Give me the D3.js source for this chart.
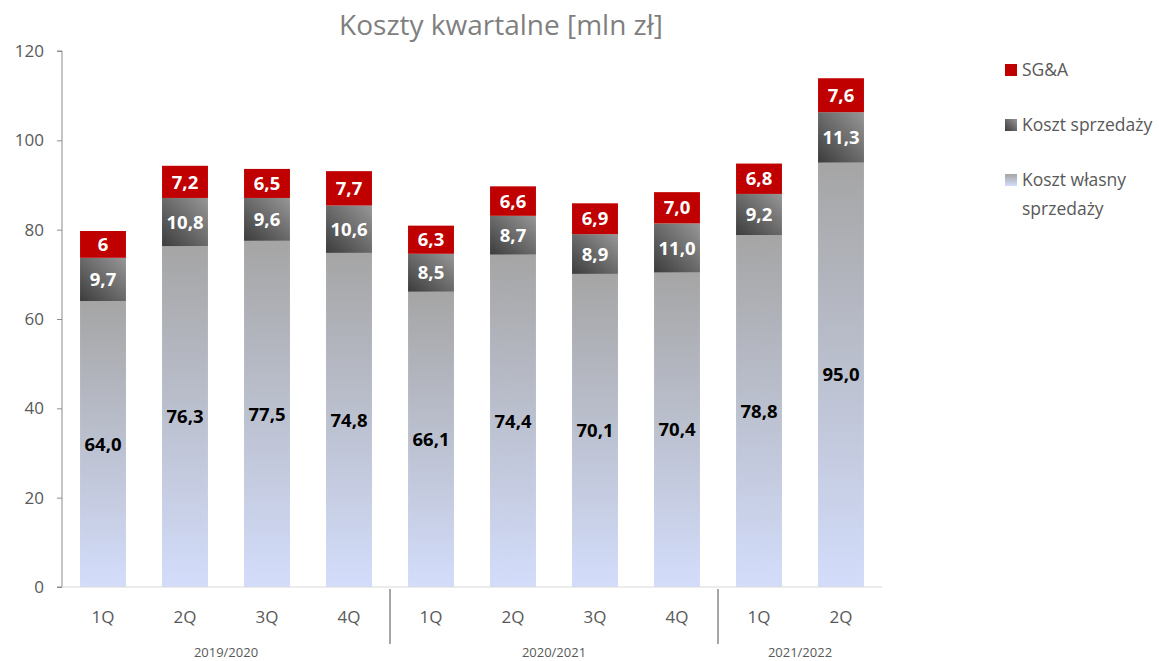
<!DOCTYPE html>
<html>
<head>
<meta charset="utf-8">
<script src="https://cdn.jsdelivr.net/npm/d3@7"></script>
<style>
  body { margin: 0; background: #fff; }
  text { font-family: "Open Sans", "Liberation Sans", sans-serif; }
</style>
</head>
<body>
<script>
// Data
const quarters = ["1Q", "2Q", "3Q", "4Q", "1Q", "2Q", "3Q", "4Q", "1Q", "2Q"];
const years = ["2019/2020", "2020/2021", "2021/2022"];
const yearSpans = [4, 4, 2];
const kosztWlasny = [64.0, 76.3, 77.5, 74.8, 66.1, 74.4, 70.1, 70.4, 78.8, 95.0];
const kosztSprzedazy = [9.7, 10.8, 9.6, 10.6, 8.5, 8.7, 8.9, 11.0, 9.2, 11.3];
const sga = [6, 7.2, 6.5, 7.7, 6.3, 6.6, 6.9, 7.0, 6.8, 7.6];
const sgaLabels = ["6", "7,2", "6,5", "7,7", "6,3", "6,6", "6,9", "7,0", "6,8", "7,6"];
const yTicks = [0, 20, 40, 60, 80, 100, 120];

// Dimensions
const W = 1159, H = 661;
const margin = { top: 51, left: 62, right: 277, bottom: 74 };
const plotW = W - margin.left - margin.right;
const plotH = H - margin.top - margin.bottom;

const svg = d3.select("body").append("svg")
    .attr("width", W)
    .attr("height", H);

const defs = svg.append("defs");
const gOwn = defs.append("linearGradient").attr("id", "gOwn")
    .attr("x1", 0).attr("y1", 0).attr("x2", 0).attr("y2", 1);
gOwn.append("stop").attr("offset", "0%").attr("stop-color", "#a5a5a5");
gOwn.append("stop").attr("offset", "100%").attr("stop-color", "#d3ddfb");
const gSale = defs.append("linearGradient").attr("id", "gSale")
    .attr("x1", 0).attr("y1", 1).attr("x2", 1).attr("y2", 0);
gSale.append("stop").attr("offset", "0%").attr("stop-color", "#3c3c3c");
gSale.append("stop").attr("offset", "100%").attr("stop-color", "#979797");

const fmt = v => d3.format(".1f")(v).replace(".", ",");

const series = [
  { key: "own", values: kosztWlasny, fill: "url(#gOwn)", color: "#000", labels: kosztWlasny.map(fmt) },
  { key: "sale", values: kosztSprzedazy, fill: "url(#gSale)", color: "#fff", labels: kosztSprzedazy.map(fmt) },
  { key: "sga", values: sga, fill: "#c00000", color: "#fff", labels: sgaLabels }
];

const x = d3.scaleBand()
    .domain(d3.range(quarters.length))
    .range([0, plotW])
    .paddingInner(0.44)
    .paddingOuter(0.22);

const y = d3.scaleLinear()
    .domain([0, 120])
    .range([plotH, 0]);

const g = svg.append("g")
    .attr("transform", `translate(${margin.left},${margin.top})`);

// Title
svg.append("text")
    .attr("x", 501).attr("y", 35)
    .attr("text-anchor", "middle")
    .attr("font-size", 28)
    .attr("fill", "#7f7f7f")
    .text("Koszty kwartalne [mln zł]");

// Stacks
const stacked = [];
quarters.forEach((q, i) => {
  let base = 0;
  series.forEach(s => {
    stacked.push({ i, y0: base, y1: base + s.values[i], s, label: s.labels[i] });
    base += s.values[i];
  });
});

g.selectAll("rect.bar")
    .data(stacked)
    .enter()
    .append("rect")
    .attr("class", "bar")
    .attr("x", d => x(d.i))
    .attr("width", x.bandwidth())
    .attr("y", d => y(d.y1))
    .attr("height", d => y(d.y0) - y(d.y1))
    .attr("fill", d => d.s.fill);

g.selectAll("text.val")
    .data(stacked)
    .enter()
    .append("text")
    .attr("class", "val")
    .attr("x", d => x(d.i) + x.bandwidth() / 2)
    .attr("y", d => (y(d.y0) + y(d.y1)) / 2)
    .attr("dy", "0.36em")
    .attr("text-anchor", "middle")
    .attr("font-size", 18.5)
    .attr("font-weight", "bold")
    .attr("fill", d => d.s.color)
    .text(d => d.label);

// Y axis
const yAxis = g.append("g")
    .call(d3.axisLeft(y).tickValues(yTicks).tickSize(5).tickPadding(13));
yAxis.select(".domain").attr("stroke", "#8c8c8c").attr("d", `M-5,${plotH}H0V0H-5`);
yAxis.selectAll(".tick line").attr("stroke", "#8c8c8c");
yAxis.selectAll(".tick text").attr("font-size", 17).attr("fill", "#595959")
    .style("font-family", "'Open Sans', sans-serif");

// X axis baseline
g.append("line")
    .attr("x1", 0).attr("x2", plotW)
    .attr("y1", plotH).attr("y2", plotH)
    .attr("stroke", "#d9d9d9");

// Quarter labels
g.selectAll("text.q")
    .data(quarters)
    .enter()
    .append("text")
    .attr("class", "q")
    .attr("x", (d, i) => x(i) + x.bandwidth() / 2)
    .attr("y", plotH + 36)
    .attr("text-anchor", "middle")
    .attr("font-size", 17)
    .attr("fill", "#595959")
    .text(d => d);

// Year groups
let start = 0;
const step = x.step();
years.forEach((yr, k) => {
  const x0 = start * step;
  const x1 = (start + yearSpans[k]) * step;
  g.append("text")
      .attr("x", (x0 + x1) / 2)
      .attr("y", plotH + 70)
      .attr("text-anchor", "middle")
      .attr("font-size", 13)
      .attr("fill", "#595959")
      .text(yr);
  if (k > 0) {
    g.append("line")
        .attr("x1", x0).attr("x2", x0)
        .attr("y1", plotH + 2).attr("y2", plotH + 57)
        .attr("stroke", "#a6a6a6")
        .attr("stroke-width", 2);
  }
  start += yearSpans[k];
});

// Legend
const legendItems = [
  { lines: ["SG&A"], fill: "#c00000" },
  { lines: ["Koszt sprzedaży"], fill: "url(#gSale)" },
  { lines: ["Koszt własny", "sprzedaży"], fill: "url(#gOwn)" }
];
const legend = svg.append("g").attr("transform", "translate(1005,70)");
legendItems.forEach((it, k) => {
  const li = legend.append("g").attr("transform", `translate(0,${k * 55})`);
  li.append("rect").attr("x", 0).attr("y", -6).attr("width", 12).attr("height", 12).attr("fill", it.fill);
  it.lines.forEach((ln, j) => {
    li.append("text")
        .attr("x", 17).attr("y", j * 29)
        .attr("dy", "0.35em")
        .attr("font-size", 17.5)
        .attr("fill", "#595959")
        .text(ln);
  });
});
</script>
</body>
</html>
